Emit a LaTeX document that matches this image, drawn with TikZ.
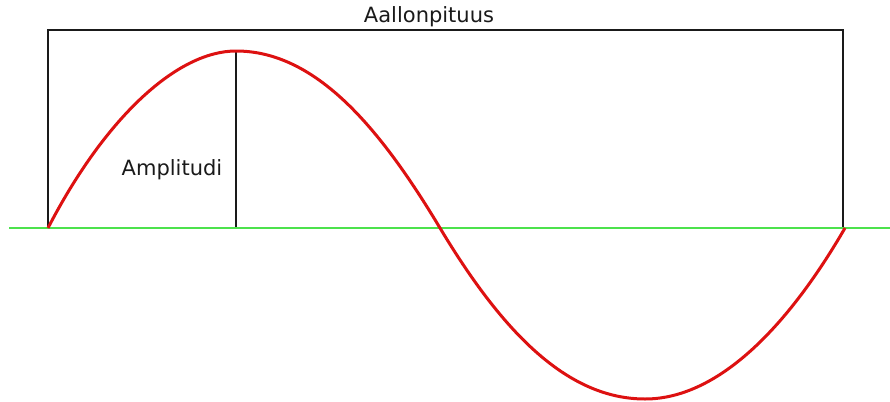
\documentclass[tikz,border=0pt]{standalone}
\usepackage{fontspec}
\setmainfont{DejaVu Sans}
\usepackage{xcolor}
\usetikzlibrary{positioning}
\definecolor{rojo}{HTML}{DD1111}
\definecolor{verde}{HTML}{4CE24C}
\definecolor{negro}{HTML}{1A1A1A}

\begin{document}
\begin{tikzpicture}[x=0.5pt, y=-0.5pt, font=\fontsize{10.5}{12}\selectfont,
    marco/.style={draw=negro, line width=1pt},
    onda/.style={draw=rojo, line width=1.5pt},
    eje/.style={draw=verde, line width=1.2pt}]
        \useasboundingbox (0,0) rectangle (890,402);
        \coordinate (inicio) at (48,228);
        \coordinate (cresta) at (236,51);
        \coordinate (cruce) at (440,228);
        \coordinate (valle) at (645,399);
        \coordinate (fin) at (845,228);
        \coordinate (base) at (236,228);
        \coordinate (izq) at (9,228);
        \coordinate (der) at (890,228);
        \draw[marco] (inicio) -- (48,30) -- (843,30) -- (843,228);
        \draw[marco] (cresta) -- (base);
        \draw[eje] (izq) -- (der);
        \draw[onda] (inicio) .. controls +(58,-112) and +(-58,0) .. (cresta)
                    .. controls +(80,0) and +(-60,-100) .. (cruce)
                    .. controls +(60,100) and +(-80,0) .. (valle)
                    .. controls +(75,0) and +(-55,95) .. (fin);
        \node[text=negro] (longitud) at (429,17) {Aallonpituus};
        \node[text=negro] (amplitud) at (172,170) {Amplitudi};
      \end{tikzpicture}
\end{document}
